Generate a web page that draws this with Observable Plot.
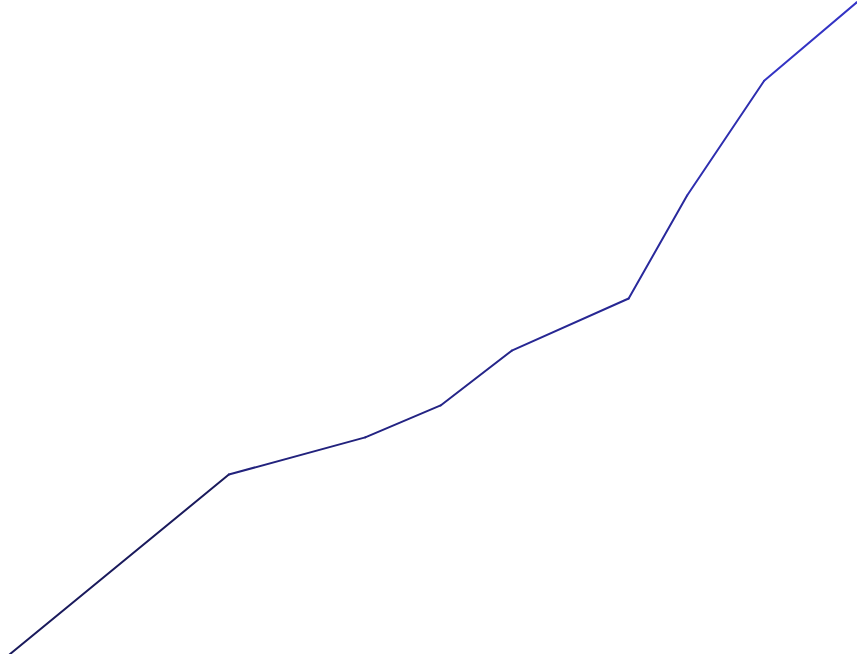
<!DOCTYPE html>
<html>
<head>
<meta charset="utf-8">
<script src="https://cdn.jsdelivr.net/npm/d3@7"></script>
<script src="https://cdn.jsdelivr.net/npm/@observablehq/plot@0.6"></script>
<style>
html, body { margin: 0; padding: 0; background: #fff; overflow: hidden; }
</style>
</head>
<body>
<div id="chart"></div>
<script>
const xs = [0, 25.9, 42.0, 50.9, 59.3, 73.1, 80.0, 89.1, 100];
const ys = [0, 27.6, 33.3, 38.2, 46.6, 54.6, 70.4, 88.0, 100];
const data = xs.map((x, i) => ({x, y: ys[i]}));

const chart = Plot.plot({
  width: 857,
  height: 654,
  marginLeft: 9,
  marginRight: 1,
  marginTop: 2,
  marginBottom: 0,
  x: {domain: [0, 100], axis: null},
  y: {domain: [0, 100], axis: null},
  color: {type: "linear", domain: [0, 100], range: ["#1a1a5c", "#3636d2"], interpolate: "rgb"},
  marks: [
    Plot.line(data, {x: "x", y: "y", z: null, stroke: "y", strokeWidth: 2})
  ]
});
document.getElementById("chart").appendChild(chart);
</script>
</body>
</html>
